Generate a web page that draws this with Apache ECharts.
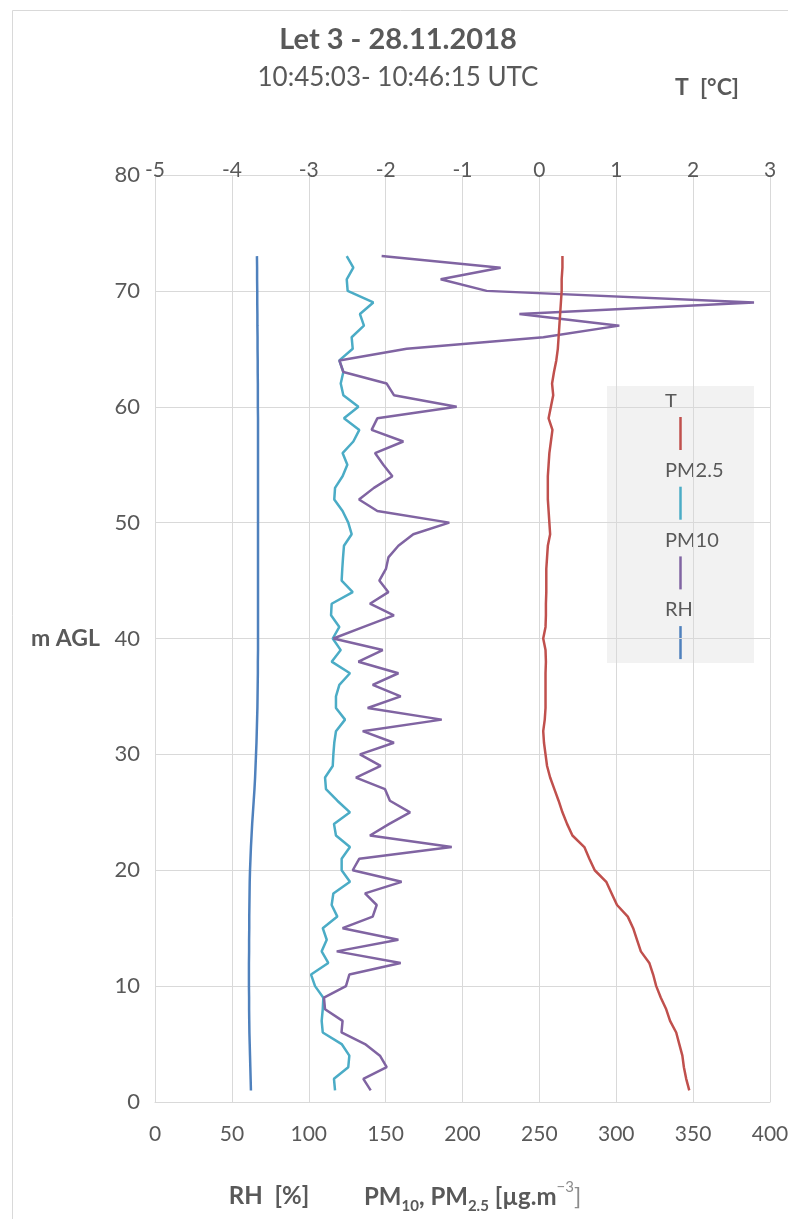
<!DOCTYPE html>
<html><head><meta charset="utf-8">
<script src="https://cdn.jsdelivr.net/npm/echarts@6/dist/echarts.min.js"></script>
<style>html,body{margin:0;padding:0;background:#fff}#c{width:788px;height:1219px}</style>
</head><body><div id="c"></div><script>
// heights (m AGL)
const heights = [1,2,3,4,5,6,7,8,9,10,11,12,13,14,15,16,17,18,19,20,21,22,23,24,25,26,27,28,29,30,31,32,33,34,35,36,37,38,39,40,41,42,43,44,45,46,47,48,49,50,51,52,53,54,55,56,57,58,59,60,61,62,63,64,65,66,67,68,69,70,71,72,73];
// T [°C]
const tempT = [1.95,1.91,1.88,1.86,1.82,1.78,1.70,1.65,1.58,1.52,1.48,1.43,1.32,1.27,1.22,1.15,1.01,0.94,0.87,0.72,0.65,0.585,0.43,0.36,0.30,0.25,0.195,0.14,0.10,0.08,0.06,0.05,0.07,0.08,0.08,0.08,0.08,0.085,0.08,0.05,0.08,0.085,0.085,0.09,0.09,0.09,0.10,0.11,0.14,0.13,0.12,0.11,0.11,0.11,0.12,0.13,0.15,0.17,0.12,0.15,0.18,0.165,0.19,0.22,0.24,0.25,0.26,0.27,0.28,0.29,0.29,0.30,0.30];
// PM2.5 [µg/m3]
const pm25 = [117.1,116.4,125.7,126.4,121.4,109.1,108.4,109.1,109.5,104.1,101.5,112.7,108.4,111.7,109.1,118.6,114.9,116.0,126.8,121.4,121.4,126.8,117.7,116.4,126.8,118.6,111.2,110.6,115.6,116.0,116.6,117.7,123.6,117.7,117.7,119.9,126.8,114.9,120.8,115.6,119.9,114.5,114.9,128.6,121.4,121.8,122.3,122.9,127.9,125.7,122.0,116.6,117.1,122.0,125.1,122.0,129.0,132.9,122.9,132.3,122.5,120.8,122.5,119.9,128.6,127.9,135.9,133.3,142.0,125.3,124.7,129.0,124.7];
// PM10 [µg/m3]
const pm10 = [140.3,135.5,150.7,146.3,136.6,121.3,122.0,110.6,109.9,124.2,126.4,159.8,118.2,158.3,122.0,141.6,144.2,136.6,160.4,128.6,132.9,193.0,139.8,152.4,165.9,152.8,149.6,130.7,146.8,133.3,155.4,135.1,186.5,138.3,159.8,141.6,158.3,132.3,148.1,116.0,135.7,155.4,139.8,151.8,145.9,150.2,151.8,158.3,168.0,191.4,144.6,132.7,142.4,154.4,148.5,143.1,161.5,140.9,144.6,196.2,155.4,150.7,122.5,119.9,163.7,252.6,302.0,237.0,389.6,215.7,185.8,224.8,147.4];
// RH [%]
const rh = [62.4,62.2,62.0,61.8,61.6,61.4,61.3,61.2,61.2,61.1,61.1,61.1,61.2,61.2,61.3,61.3,61.4,61.5,61.6,61.8,62.1,62.4,62.8,63.2,63.7,64.2,64.7,65.1,65.4,65.7,66.0,66.2,66.4,66.6,66.7,66.8,66.9,66.9,67.0,67.0,67.0,67.0,67.0,67.0,67.0,67.0,67.0,67.0,67.0,67.0,67.0,67.0,67.0,67.0,67.0,67.0,67.0,67.0,67.0,66.9,66.9,66.9,66.8,66.8,66.7,66.7,66.6,66.6,66.5,66.5,66.4,66.4,66.3];
// tick labels
const bottomTicks = [0,50,100,150,200,250,300,350,400];
const topTicks = [-5,-4,-3,-2,-1,0,1,2,3];
const yTicks = [0,10,20,30,40,50,60,70,80];

const seriesNames = ['T','PM2.5','PM10','RH'];
const seriesColors = ['#c0504d','#4bacc6','#8064a2','#4f81bd'];

const FONT = 'Lato, "Open Sans", sans-serif';
const GREY = '#595959';
const GRID = '#d9d9d9';

const pairs = vals => vals.map((v, i) => [v, heights[i]]);

const chart = echarts.init(document.getElementById('c'), null, {renderer:'canvas'});

const legendGraphics = [{type:'rect', shape:{x:607,y:386,width:147,height:277}, style:{fill:'#f2f2f2'}}];
seriesNames.forEach((n, i) => {
  legendGraphics.push({type:'text', x:665, y:401.5 + i*69.3, style:{text:n, fill:GREY, font:'20px ' + FONT, textAlign:'left', textVerticalAlign:'middle'}});
  legendGraphics.push({type:'line', shape:{x1:680.5,y1:417 + i*69.7,x2:680.5,y2:450 + i*69.7}, style:{stroke:seriesColors[i], lineWidth:2.5}});
});

const option = {
  backgroundColor:'#fff',
  animation:false,
  grid:{left:155, right:18, top:175, bottom:117, containLabel:false, outerBoundsMode:'none'},
  xAxis:[
    {type:'value', position:'bottom', min:bottomTicks[0], max:bottomTicks[bottomTicks.length-1], interval:50,
     axisLine:{show:true, onZero:false, lineStyle:{color:GRID, width:1}}, axisTick:{show:false},
     splitLine:{show:true, lineStyle:{color:GRID, width:1}},
     axisLabel:{color:GREY, fontSize:21, fontFamily:FONT, margin:22}},
    {type:'value', position:'top', min:topTicks[0], max:topTicks[topTicks.length-1], interval:1,
     axisLine:{show:false}, axisTick:{show:false}, splitLine:{show:false},
     axisLabel:{color:GREY, fontSize:21, fontFamily:FONT, margin:-6}}
  ],
  yAxis:{type:'value', min:yTicks[0], max:yTicks[yTicks.length-1], interval:10,
     axisLine:{show:false}, axisTick:{show:false},
     splitLine:{show:true, lineStyle:{color:GRID, width:1}},
     axisLabel:{color:GREY, fontSize:22, fontFamily:FONT, margin:15},
     name:'m AGL', nameLocation:'middle', nameRotate:0, nameGap:55,
     nameTextStyle:{color:GREY, fontSize:23, fontWeight:'bold', fontFamily:FONT, align:'right'}},
  series:[
    {name:'RH', type:'line', xAxisIndex:0, data:pairs(rh), symbol:'none', lineStyle:{color:seriesColors[3], width:2.5}, itemStyle:{color:seriesColors[3]}},
    {name:'PM2.5', type:'line', xAxisIndex:0, data:pairs(pm25), symbol:'none', lineStyle:{color:seriesColors[1], width:2.5}, itemStyle:{color:seriesColors[1]}},
    {name:'PM10', type:'line', xAxisIndex:0, data:pairs(pm10), symbol:'none', lineStyle:{color:seriesColors[2], width:2.5}, itemStyle:{color:seriesColors[2]}},
    {name:'T', type:'line', xAxisIndex:1, data:pairs(tempT), symbol:'none', lineStyle:{color:seriesColors[0], width:2.5}, itemStyle:{color:seriesColors[0]}}
  ],
  graphic:[
    {type:'rect', shape:{x:12.5,y:10.5,width:900,height:1400}, style:{fill:'none', stroke:GRID, lineWidth:1}, silent:true},
    {type:'text', x:398, y:40, style:{text:'Let 3 - 28.11.2018', fill:GREY, font:'bold 29px ' + FONT, textAlign:'center', textVerticalAlign:'middle'}},
    {type:'text', x:398, y:78, style:{text:'10:45:03- 10:46:15 UTC', fill:GREY, font:'26px ' + FONT, textAlign:'center', textVerticalAlign:'middle'}},
    {type:'text', x:707, y:88, style:{text:'T  [°C]', fill:GREY, font:'bold 23px ' + FONT, textAlign:'center', textVerticalAlign:'middle'}},
    {type:'text', x:269, y:1196, style:{text:'RH  [%]', fill:GREY, font:'bold 24px ' + FONT, textAlign:'center', textVerticalAlign:'middle'}},
    {type:'text', x:364, y:1180, style:{
      text:'{b|PM}{s|10}{b|, PM}{s|2.5}{b| [µg.m}{p|−3}{l|]}',
      rich:{
        b:{fill:GREY, font:'bold 24px ' + FONT, lineHeight:34, verticalAlign:'middle'},
        s:{fill:GREY, font:'bold 15px ' + FONT, lineHeight:16, verticalAlign:'bottom'},
        p:{fill:'#8c8c8c', font:'15px ' + FONT, lineHeight:16, verticalAlign:'top'},
        l:{fill:'#8c8c8c', font:'24px ' + FONT, lineHeight:34, verticalAlign:'middle'}
      }, textAlign:'left', textVerticalAlign:'top'}},
    {type:'group', children:legendGraphics}
  ]
};
chart.setOption(option);
</script></body></html>
